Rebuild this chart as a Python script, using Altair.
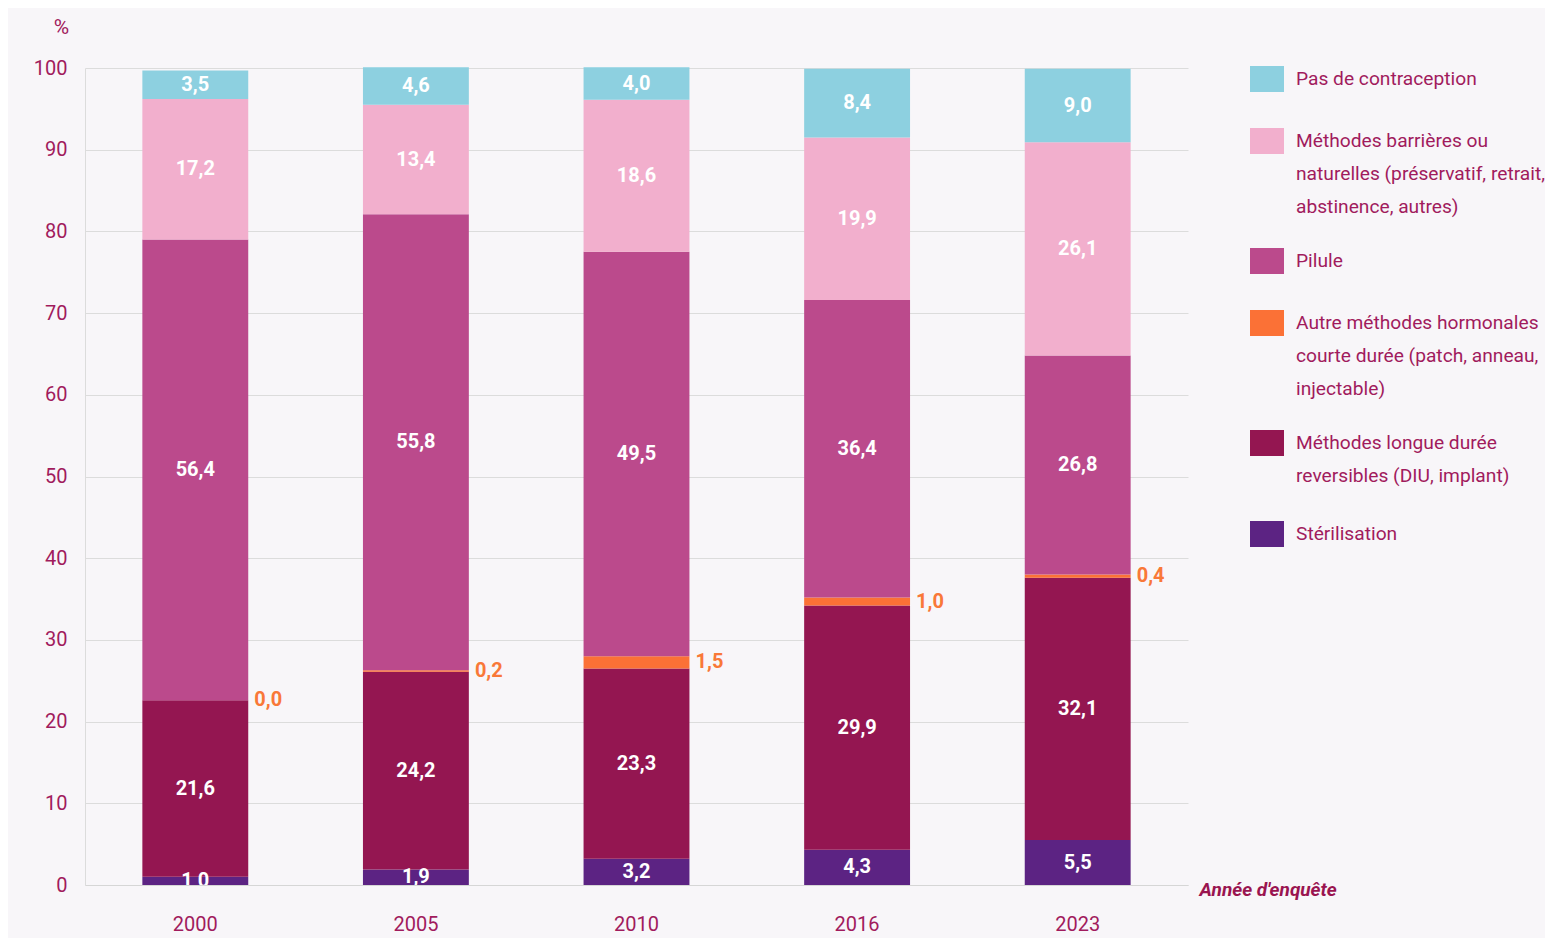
import altair as alt
import pandas as pd

years = ["2000", "2005", "2010", "2016", "2023"]

# legend order (top to bottom); "|" marks line breaks in the legend
categories = [
    "Pas de contraception",
    "Méthodes barrières ou|naturelles (préservatif, retrait,|abstinence, autres)",
    "Pilule",
    "Autre méthodes hormonales|courte durée (patch, anneau,|injectable)",
    "Méthodes longue durée|reversibles (DIU, implant)",
    "Stérilisation",
]
colors = ["#8dd0e0", "#f2afcd", "#bb4a8c", "#fb7136", "#941651", "#5c2383"]

pas_contraception = [3.5, 4.6, 4.0, 8.4, 9.0]
barrieres = [17.2, 13.4, 18.6, 19.9, 26.1]
pilule = [56.4, 55.8, 49.5, 36.4, 26.8]
autre_hormonales = [0.0, 0.2, 1.5, 1.0, 0.4]
longue_duree = [21.6, 24.2, 23.3, 29.9, 32.1]
sterilisation = [1.0, 1.9, 3.2, 4.3, 5.5]

series = [pas_contraception, barrieres, pilule, autre_hormonales, longue_duree, sterilisation]

rows = []
for ci, (cat, vals) in enumerate(zip(categories, series)):
    for y, v in zip(years, vals):
        rows.append({"year": y, "cat": cat, "value": v, "rank": len(categories) - 1 - ci})
df = pd.DataFrame(rows)

# legend table: item index and number of text lines before it
leg_rows = []
lines_before = 0
for i, cat in enumerate(categories):
    leg_rows.append({"cat": cat, "idx": i, "lines_before": lines_before})
    lines_before += len(cat.split("|"))
leg_df = pd.DataFrame(leg_rows)

FONT = "Roboto"
TXT = "#a11b5d"
LINE_H = 33
ITEM_GAP = 33
LEG_TOP = 11

base = alt.Chart(df).transform_stack(
    stack="value", groupby=["year"], as_=["y0", "y1"],
    sort=[alt.SortField("rank", order="ascending")]
).transform_calculate(
    mid="(datum.y0 + datum.y1) / 2",
    label="replace(format(datum.value, '.1f'), '.', ',')"
)

x_enc = alt.X(
    "year:N",
    scale=alt.Scale(paddingInner=0.52, paddingOuter=0.26),
    axis=alt.Axis(
        title="Année d'enquête", labelAngle=0, labelFontSize=20, labelColor=TXT,
        labelFont=FONT, labelPadding=29, ticks=False, domainColor="#d6d6d6",
        titleFont=FONT, titleFontSize=19, titleFontStyle="italic", titleFontWeight="bold",
        titleColor="#9a1450", titleX=1114, titleY=4, titleAlign="left",
        titleBaseline="middle", titleAnchor="start",
    ),
)

bars = base.mark_bar().encode(
    x=x_enc,
    y=alt.Y(
        "y0:Q",
        scale=alt.Scale(domain=[0, 100], nice=False),
        axis=alt.Axis(
            title="%", titleAngle=0, titleX=-24, titleY=-41, titleAlign="center",
            titleBaseline="middle", titleFontSize=21, titleFontWeight="normal",
            titleColor=TXT, titleFont=FONT,
            values=list(range(0, 101, 10)), labelFontSize=20, labelColor=TXT,
            labelFont=FONT, labelPadding=18, ticks=False, grid=True,
            gridColor="#dcdcdc", domainColor="#dcdcdc",
        ),
    ),
    y2="y1",
    color=alt.Color("cat:N", scale=alt.Scale(domain=categories, range=colors), legend=None),
    order=alt.Order("rank:Q"),
)

white_labels = base.transform_filter("datum.rank != 2").mark_text(
    color="white", font=FONT, fontSize=20, fontWeight="bold", clip=True, baseline="middle"
).encode(x=alt.X("year:N"), y=alt.Y("mid:Q"), text="label:N")

orange_labels = base.transform_filter("datum.rank == 2").mark_text(
    color="#f97838", font=FONT, fontSize=20, fontWeight="bold", align="left", dx=59,
    baseline="middle"
).encode(x=alt.X("year:N"), y=alt.Y("mid:Q"), text="label:N")

main = alt.layer(bars, white_labels, orange_labels).properties(width=1103, height=817)

leg_base = alt.Chart(leg_df).transform_calculate(
    ypos=f"{LEG_TOP} + datum.lines_before * {LINE_H - 4} + datum.idx * {ITEM_GAP}",
    ytop="datum.ypos - 13",
    ybot="datum.ypos + 13",
    ytext=f"datum.ypos - {LINE_H / 2}",
)
leg_scale = alt.Scale(domain=[0, 817], range=[0, 817])

swatches = leg_base.mark_rect().encode(
    x=alt.value(0), x2=alt.value(34),
    y=alt.Y("ytop:Q", scale=leg_scale, axis=None), y2="ybot:Q",
    color=alt.Color("cat:N", scale=alt.Scale(domain=categories, range=colors), legend=None),
)
leg_text = leg_base.mark_text(
    align="left", baseline="line-top", lineBreak="|", lineHeight=LINE_H,
    font=FONT, fontSize=19.2, color=TXT,
).encode(
    x=alt.value(46),
    y=alt.Y("ytext:Q", scale=leg_scale, axis=None),
    text="cat:N",
)
legend_view = alt.layer(swatches, leg_text).properties(width=290, height=817)

chart = alt.hconcat(main, legend_view, spacing=62, bounds="flush").properties(
    padding={"left": 25, "top": 8, "right": 0, "bottom": 4},
    background="#f8f6f9",
).configure_view(stroke=None)

chart.save("out.html", embed_options={"renderer": "svg", "actions": False})
